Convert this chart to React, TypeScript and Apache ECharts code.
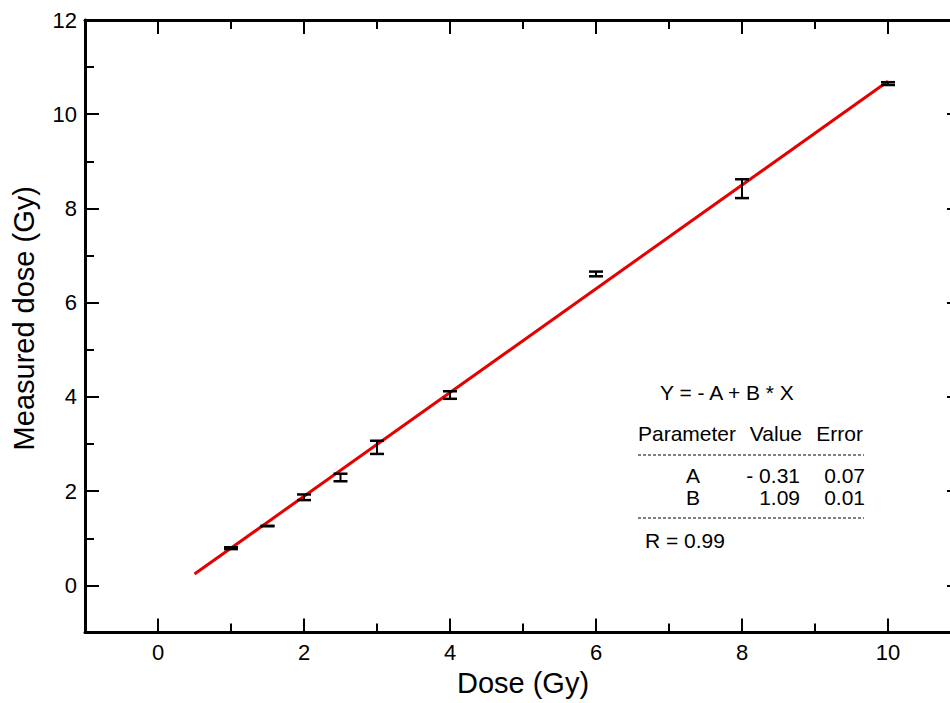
import React, { useEffect, useRef } from "react";
import * as echarts from "echarts";

// Measured points (dose delivered vs measured), with error half-widths
const doseX = [1, 1.5, 2, 2.5, 3, 4, 6, 8, 10];
const measuredY = [0.79, 1.26, 1.87, 2.29, 2.93, 4.04, 6.61, 8.42, 10.65];
const errY = [0.02, 0.005, 0.06, 0.08, 0.14, 0.08, 0.05, 0.2, 0.03];

// Linear fit line endpoints
const fitX = [0.5, 10];
const fitY = [0.24, 10.7];

// Axis ranges
const xRange = [-1, 11];
const yRange = [-1, 12];

// Fit box texts
const fitEquation = "Y = - A + B * X";
const fitHeader = ["Parameter", "Value", "Error"];
const fitParams = ["A", "B"];
const fitValues = ["- 0.31", "1.09"];
const fitErrors = ["0.07", "0.01"];
const fitR = "R = 0.99";

const FONT = '"Liberation Sans", Arial, Helvetica, sans-serif';

export default function App() {
  const ref = useRef<HTMLDivElement>(null);

  useEffect(() => {
    document.body.style.margin = "0";
    if (!ref.current) return;
    const chart = echarts.init(ref.current, undefined, { renderer: "svg" });

    const lineStyle = { color: "#000", width: 3 };
    const tickStyle = { color: "#000", width: 2 };

    const mkAxis = (
      range: number[],
      position: string,
      major: boolean,
      extra: any = {}
    ) => ({
      type: "value",
      position,
      min: range[0],
      max: range[1],
      ...(major ? { minInterval: 2, maxInterval: 2, splitNumber: 6 } : { interval: 1 }),
      axisLine: { show: major, onZero: false, lineStyle },
      axisTick: { show: true, inside: true, length: major ? 14 : 9, lineStyle: tickStyle },
      axisLabel: { show: false },
      splitLine: { show: false },
      ...extra,
    });

    const hideEdge = (lo: number, hi: number) => (v: number) =>
      v <= lo || v >= hi + 0.5 ? "" : String(v);

    const xData = doseX.map((x, i) => [x, measuredY[i], errY[i]]);
    const fitData = fitX.map((x, i) => [x, fitY[i]]);

    const textEl = (
      text: string,
      x: number,
      y: number,
      align: string = "left"
    ) => ({
      type: "text",
      x,
      y,
      style: {
        text,
        fill: "#000",
        fontSize: 21,
        fontFamily: FONT,
        align,
        textAlign: align,
        verticalAlign: "middle",
        textVerticalAlign: "middle",
      },
    });

    const dashed = (y: number) => ({
      type: "line",
      shape: { x1: 638, y1: y, x2: 864, y2: y },
      style: { stroke: "#555", lineWidth: 1.5, lineDash: [3, 2] },
    });

    chart.setOption({
      animation: false,
      backgroundColor: "#fff",
      grid: {
        left: 85,
        top: 20,
        width: 876,
        height: 612.5,
        containLabel: false,
        outerBoundsMode: "none",
      },
      xAxis: [
        mkAxis(xRange, "bottom", true, {
          axisLabel: {
            show: true,
            color: "#000",
            fontSize: 22,
            fontFamily: FONT,
            margin: 9,
            showMinLabel: false,
            formatter: hideEdge(xRange[0], xRange[1] - 1),
          },
          name: "Dose (Gy)",
          nameLocation: "middle",
          nameGap: 36,
          nameTextStyle: { color: "#000", fontSize: 29, fontFamily: FONT },
        }),
        mkAxis(xRange, "bottom", false),
        mkAxis(xRange, "top", true),
        mkAxis(xRange, "top", false),
      ],
      yAxis: [
        mkAxis(yRange, "left", true, {
          axisLabel: {
            show: true,
            color: "#000",
            fontSize: 22,
            fontFamily: FONT,
            margin: 8,
            showMinLabel: false,
            formatter: hideEdge(yRange[0], yRange[1]),
          },
          name: "Measured dose (Gy)",
          nameLocation: "middle",
          nameGap: 47,
          nameTextStyle: {
            color: "#000",
            fontSize: 29,
            fontFamily: FONT,
            padding: [0, 0, 0, 16],
          },
        }),
        mkAxis(yRange, "left", false),
        mkAxis(yRange, "right", true),
        mkAxis(yRange, "right", false),
      ],
      series: [
        {
          type: "line",
          name: "Fit",
          xAxisIndex: 0,
          yAxisIndex: 0,
          data: fitData,
          symbol: "none",
          lineStyle: { color: "#e60000", width: 3 },
          z: 3,
        },
        {
          type: "custom",
          name: "Measured",
          xAxisIndex: 0,
          yAxisIndex: 0,
          data: xData,
          encode: { x: 0, y: 1 },
          z: 4,
          renderItem: (params: any, api: any) => {
            const x = api.value(0);
            const y = api.value(1);
            const e = api.value(2);
            const top = api.coord([x, y + e]);
            const bot = api.coord([x, y - e]);
            const hw = 7;
            const st = { stroke: "#000", lineWidth: 2.5 };
            return {
              type: "group",
              children: [
                { type: "line", shape: { x1: top[0], y1: top[1], x2: bot[0], y2: bot[1] }, style: { stroke: "#000", lineWidth: 2 } },
                { type: "line", shape: { x1: top[0] - hw, y1: top[1], x2: top[0] + hw, y2: top[1] }, style: st },
                { type: "line", shape: { x1: bot[0] - hw, y1: bot[1], x2: bot[0] + hw, y2: bot[1] }, style: st },
              ],
            };
          },
        },
      ],
      graphic: [
        textEl(fitEquation, 660, 392),
        textEl(fitHeader[0], 638, 433),
        textEl(fitHeader[1], 802, 433, "right"),
        textEl(fitHeader[2], 863, 433, "right"),
        dashed(455),
        textEl(fitParams[0], 693, 475, "center"),
        textEl(fitValues[0], 800, 475, "right"),
        textEl(fitErrors[0], 865, 475, "right"),
        textEl(fitParams[1], 693, 497, "center"),
        textEl(fitValues[1], 800, 497, "right"),
        textEl(fitErrors[1], 865, 497, "right"),
        dashed(518),
        textEl(fitR, 645, 540),
      ],
    });

    return () => chart.dispose();
  }, []);

  return <div ref={ref} style={{ width: 950, height: 703 }} />;
}
